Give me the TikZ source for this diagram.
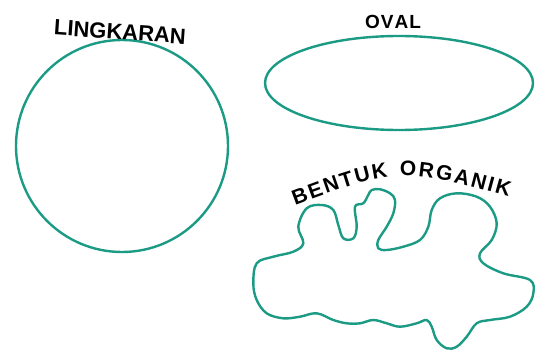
\documentclass[tikz,border=0pt]{standalone}
\usepackage{fontspec}
\setmainfont{Liberation Sans}
\usetikzlibrary{decorations.text}
\definecolor{shapeteal}{HTML}{1B9A84}
\begin{document}
\begin{tikzpicture}[x=1pt,y=-1pt,
  outline/.style={draw=shapeteal,line width=2.4pt},
  lbl/.style={font=\bfseries\fontsize{22}{22}\selectfont,inner sep=0pt}]
\useasboundingbox (0,0) rectangle (535,356);
% circle
\draw[outline] (122,146) circle[radius=106];
\node[lbl,rotate=-4] (lingkaran) at (120,32) {LINGKARAN};
% oval
\draw[outline] (399,83) ellipse[x radius=134,y radius=47];
\node[lbl,font=\bfseries\fontsize{19}{19}\selectfont] (oval) at (393,22) {O\kern1ptV\kern1ptA\kern1ptL};
% organic shape
\draw[outline] plot[smooth cycle,tension=0.6] coordinates {
(298.3,226.7) (306.7,208.3) (321.7,205) (333.3,210) (338.3,225) (343.3,238.3)
(353.3,238.3) (356.7,226.7) (355,206.7) (363.3,203.3) (368.3,195) (371.7,190)
(380,189.3) (390,193.3) (395,200) (393.3,213.3) (386.7,226.7) (378.3,240)
(378.3,248.3) (386.7,250) (403.3,246.7) (420,240) (428.3,226.7) (431.7,210)
(440,198.3) (456.7,193.3) (476.7,196.7) (490,206.7) (496.7,223.3) (491.7,240)
(480,253.3) (483.3,263.3) (503.3,273.3) (530,280) (533.3,293.3) (526.7,306.7)
(510,316.7) (490,320) (476.7,323.3) (466.7,336.7) (456.7,346.7) (446.7,348.3)
(436.7,340) (431.7,326.7) (426.7,320) (416.7,323.3) (400,326.7) (386.7,323.3)
(373.3,320) (360,323.3) (346.7,323.3) (333.3,320) (316.7,313.3) (300,316.7)
(283.3,318.3) (266.7,313.3) (256.7,300) (253.3,283.3) (256.7,263.3) (273.3,256.7)
(293.3,251.7) (303.3,243.3)};
\coordinate (orgstart) at (280,211);
\coordinate (orgend) at (524,201);
\path[decorate,decoration={text along path,text align=center,
  text={|\bfseries\fontsize{21}{21}\selectfont|B{\kern2pt}E{\kern2pt}N{\kern2pt}T{\kern2pt}U{\kern2pt}K{\ }{\ }O{\kern2pt}R{\kern2pt}G{\kern2pt}A{\kern2pt}N{\kern2pt}I{\kern2pt}K}}]
  (orgstart) .. controls (400,166) .. (orgend);
\end{tikzpicture}
\end{document}
